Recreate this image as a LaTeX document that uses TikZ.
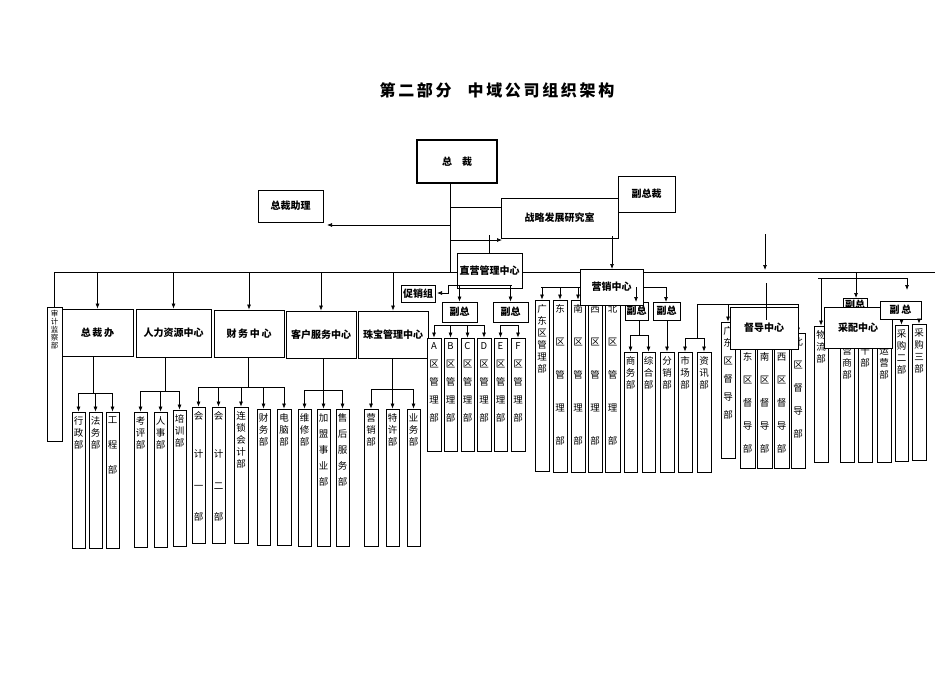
\documentclass[tikz,border=0pt]{standalone}
\usepackage{fontspec}
\setmainfont{Noto Sans CJK SC}
\usetikzlibrary{arrows.meta,fit}
\tikzset{x=1pt,y=-1pt,
  bx/.style={draw,line width=0.8pt,inner sep=0pt,fill=white},
  vt/.style={anchor=north,inner xsep=1pt,inner ysep=5pt,align=center,font=\fontsize{9.5}{12}\selectfont},
  ht/.style={inner sep=0pt,font=\bfseries\fontsize{10}{12}\selectfont},
  ln/.style={line width=0.7pt},
  arr/.style={line width=0.7pt,-{Latex[length=5pt,width=4pt]}}}
\newcommand\bx[6]{\node[bx,fit={(#2,#3)(#4,#5)}] (#1) {};\node[vt] at (#1.north) {#6};}
\newcommand\hbx[6]{\node[bx,fit={(#2,#3)(#4,#5)}] (#1) {};\node[ht] at (#1.center) {#6};}
\newcommand\dn[2]{\draw[arr] (#1.north |- 0,#2) -- (#1.north);}
\begin{document}
\begin{tikzpicture}
\useasboundingbox (0,0) rectangle (950,672);
\node[font=\bfseries\fontsize{16}{19}\selectfont] (title) at (497,90) {第\,二\,部\,分\quad 中\,域\,公\,司\,组\,织\,架\,构};
% top
\node[draw,line width=1.6pt,fit={(417,140)(497,183)},inner sep=0pt] (zc) {};
\node[ht] at (zc.center) {总\quad 裁};
\hbx{zl}{258}{190}{323}{222}{总裁助理}
\hbx{fzc}{618}{176}{675}{212}{副总裁}
\hbx{zl2}{501}{198}{618}{238}{战略发展研究室}
\coordinate (m) at (450,272);
\draw[ln] (zc.south -| 450,0) -- (m);
\draw[arr] (450,225) -- (327,225);
\draw[ln] (450,207) -- (zl2.west |- 0,207);
\draw[arr] (450,240) -- (502,240);
\draw[ln] (489,235) -- (489,253);
\draw[ln] (54,272) -- (935,272);
\draw[ln] (54,272) -- (54,307);
% row 1
\node[bx,fit={(47,307)(62,441)}] (sj) {};
\node[vt,font=\fontsize{7.5}{8}\selectfont,inner ysep=3pt] at (sj.north) {审\\计\\监\\察\\部};
\hbx{zcb}{62}{309}{133}{356}{总\,裁\,办}
\hbx{rl}{136}{309}{211}{357}{人力资源中心}
\hbx{cw}{214}{310}{284}{357}{财\,务\,中\,心}
\hbx{kf}{286}{311}{356}{358}{客户服务中心}
\hbx{zb}{358}{311}{428}{358}{珠宝管理中心}
\dn{zcb}{272}\dn{rl}{272}\dn{cw}{272}\dn{kf}{272}\dn{zb}{272}
% zhiying
\hbx{zy}{457}{253}{522}{288}{直营管理中心}
\hbx{cx}{401}{285}{435}{302}{促销组}
\draw[ln] (448,285) -- (512,285);
\draw[arr] (448,285) -- (448,293) -- (437,293);
\hbx{fz1}{442}{302}{477}{322}{副总}
\hbx{fz2}{493}{302}{528}{322}{副总}
\dn{fz1}{285}\dn{fz2}{285}
\bx{A}{427}{338}{441}{451}{A\\[6pt]区\\[6pt]管\\[6pt]理\\[6pt]部}
\bx{B}{444}{338}{457}{451}{B\\[6pt]区\\[6pt]管\\[6pt]理\\[6pt]部}
\bx{C}{461}{338}{474}{451}{C\\[6pt]区\\[6pt]管\\[6pt]理\\[6pt]部}
\bx{D}{477}{338}{491}{451}{D\\[6pt]区\\[6pt]管\\[6pt]理\\[6pt]部}
\bx{E}{494}{338}{507}{451}{E\\[6pt]区\\[6pt]管\\[6pt]理\\[6pt]部}
\bx{F}{511}{338}{525}{451}{F\\[6pt]区\\[6pt]管\\[6pt]理\\[6pt]部}
\draw[ln] (A.north |- 0,325) -- (D.north |- 0,325);
\draw[ln] (E.north |- 0,325) -- (F.north |- 0,325);
\dn{A}{325}\dn{B}{325}\dn{C}{325}\dn{D}{325}\dn{E}{325}\dn{F}{325}
% marketing
\draw[arr] (612,236) -- (612,269);
\draw[ln] (541,287) -- (667,287);
\bx{gd}{535}{300}{549}{471}{广\\东\\区\\管\\理\\部}
\bx{ed}{553}{300}{567}{472}{东\\[21pt]区\\[21pt]管\\[21pt]理\\[21pt]部}
\bx{nd}{571}{300}{585}{472}{南\\[21pt]区\\[21pt]管\\[21pt]理\\[21pt]部}
\bx{xd}{588}{300}{602}{472}{西\\[21pt]区\\[21pt]管\\[21pt]理\\[21pt]部}
\bx{bd}{605}{300}{620}{472}{北\\[21pt]区\\[21pt]管\\[21pt]理\\[21pt]部}
\dn{gd}{287}\dn{ed}{287}\dn{nd}{287}
\hbx{fz3}{625}{302}{648}{320}{副总}
\hbx{fz4}{653}{302}{680}{320}{副总}
\hbx{yx}{580}{269}{643}{305}{营销中心}
\draw[arr] (636,287) -- (636,302);
\draw[arr] (666,287) -- (666,302);
\bx{sw}{624}{352}{637}{472}{商\\务\\部}
\bx{zh}{642}{352}{655}{472}{综\\合\\部}
\bx{fx}{660}{352}{674}{472}{分\\销\\部}
\bx{sc}{678}{352}{692}{472}{市\\场\\部}
\bx{zx}{697}{352}{711}{472}{资\\讯\\部}
\draw[ln] (639,320) -- (639,335);
\draw[ln] (sw.north |- 0,335) -- (zh.north |- 0,335);
\dn{sw}{335}\dn{zh}{335}\dn{fx}{320}
\draw[ln] (697,338) -- (697,304) -- (799,304);
\draw[ln] (sc.north |- 0,338) -- (zx.north |- 0,338);
\dn{sc}{338}\dn{zx}{338}
% supervision
\draw[arr] (765,234) -- (765,270);
\bx{gdd}{721}{322}{735}{458}{广\\东\\[6pt]区\\[6pt]督\\[6pt]导\\[6pt]部}
\bx{edd}{740}{348}{755}{468}{东\\[11pt]区\\[11pt]督\\[11pt]导\\[11pt]部}
\bx{ndd}{757}{348}{772}{468}{南\\[11pt]区\\[11pt]督\\[11pt]导\\[11pt]部}
\bx{xdd}{774}{348}{789}{468}{西\\[11pt]区\\[11pt]督\\[11pt]导\\[11pt]部}
\bx{bdd}{791}{333}{805}{468}{北\\[11pt]区\\[11pt]督\\[11pt]导\\[11pt]部}
\dn{gdd}{304}\dn{bdd}{304}
\hbx{dd}{730}{307}{798}{349}{督导中心}
\draw[ln] (766,283) -- (766,320);
% procurement
\draw[ln] (818,278) -- (907,278);
\bx{wl}{814}{326}{828}{462}{物\\流\\部}
\dn{wl}{278}
\draw[arr] (907,278) -- (907,290);
\bx{ys}{840}{330}{854}{462}{经\\营\\商\\部}
\bx{ss}{858}{330}{872}{462}{加\\十\\部}
\bx{yy}{877}{330}{891}{462}{物\\运\\营\\部}
\hbx{fz5}{843}{298}{867}{312}{副总}
\draw[arr] (856,272) -- (856,298);
\hbx{cp}{824}{307}{892}{348}{采配中心}
\hbx{fz6}{880}{301}{921}{319}{副\,总}
\bx{cg2}{895}{325}{908}{461}{采\\购\\二\\部}
\bx{cg3}{912}{324}{926}{460}{采\\购\\三\\部}
\dn{cg2}{319}\dn{cg3}{319}
% bottom level
\bx{xz}{72}{412}{85}{548}{行\\政\\部}
\bx{fw}{89}{412}{102}{548}{法\\务\\部}
\bx{gc}{106}{412}{119}{548}{工\\[13pt]程\\[13pt]部}
\draw[ln] (93,356) -- (93,393);
\draw[ln] (xz.north |- 0,393) -- (gc.north |- 0,393);
\dn{xz}{393}\dn{fw}{393}\dn{gc}{393}
\bx{kp}{134}{412}{147}{547}{考\\评\\部}
\bx{rs}{154}{412}{167}{547}{人\\事\\部}
\bx{px}{173}{410}{186}{546}{培\\训\\部}
\draw[ln] (165,357) -- (165,391);
\draw[ln] (kp.north |- 0,391) -- (px.north |- 0,391);
\dn{kp}{391}\dn{rs}{391}\dn{px}{391}
\bx{kj1}{192}{407}{205}{543}{会\\[26pt]计\\[20pt]一\\[19pt]部}
\bx{kj2}{212}{407}{225}{543}{会\\[26pt]计\\[20pt]二\\[19pt]部}
\bx{ls}{234}{407}{248}{543}{连\\锁\\会\\计\\部}
\bx{cwb}{257}{409}{270}{545}{财\\务\\部}
\bx{dn}{277}{409}{291}{545}{电\\脑\\部}
\draw[ln] (248,357) -- (248,387);
\draw[ln] (kj1.north |- 0,387) -- (dn.north |- 0,387);
\dn{kj1}{387}\dn{kj2}{387}\dn{ls}{387}\dn{cwb}{387}\dn{dn}{387}
\bx{wx}{298}{409}{311}{546}{维\\修\\部}
\bx{jm}{317}{409}{330}{546}{加\\[4pt]盟\\[4pt]事\\[4pt]业\\[4pt]部}
\bx{sh}{336}{409}{349}{546}{售\\[4pt]后\\[4pt]服\\[4pt]务\\[4pt]部}
\draw[ln] (323,358) -- (323,390);
\draw[ln] (wx.north |- 0,390) -- (sh.north |- 0,390);
\dn{wx}{390}\dn{jm}{390}\dn{sh}{390}
\bx{yxb}{364}{409}{378}{546}{营\\销\\部}
\bx{tx}{386}{409}{399}{546}{特\\许\\部}
\bx{yw}{407}{409}{420}{546}{业\\务\\部}
\draw[ln] (392,358) -- (392,389);
\draw[ln] (yxb.north |- 0,389) -- (yw.north |- 0,389);
\dn{yxb}{389}\dn{tx}{389}\dn{yw}{389}
\end{tikzpicture}
\end{document}
